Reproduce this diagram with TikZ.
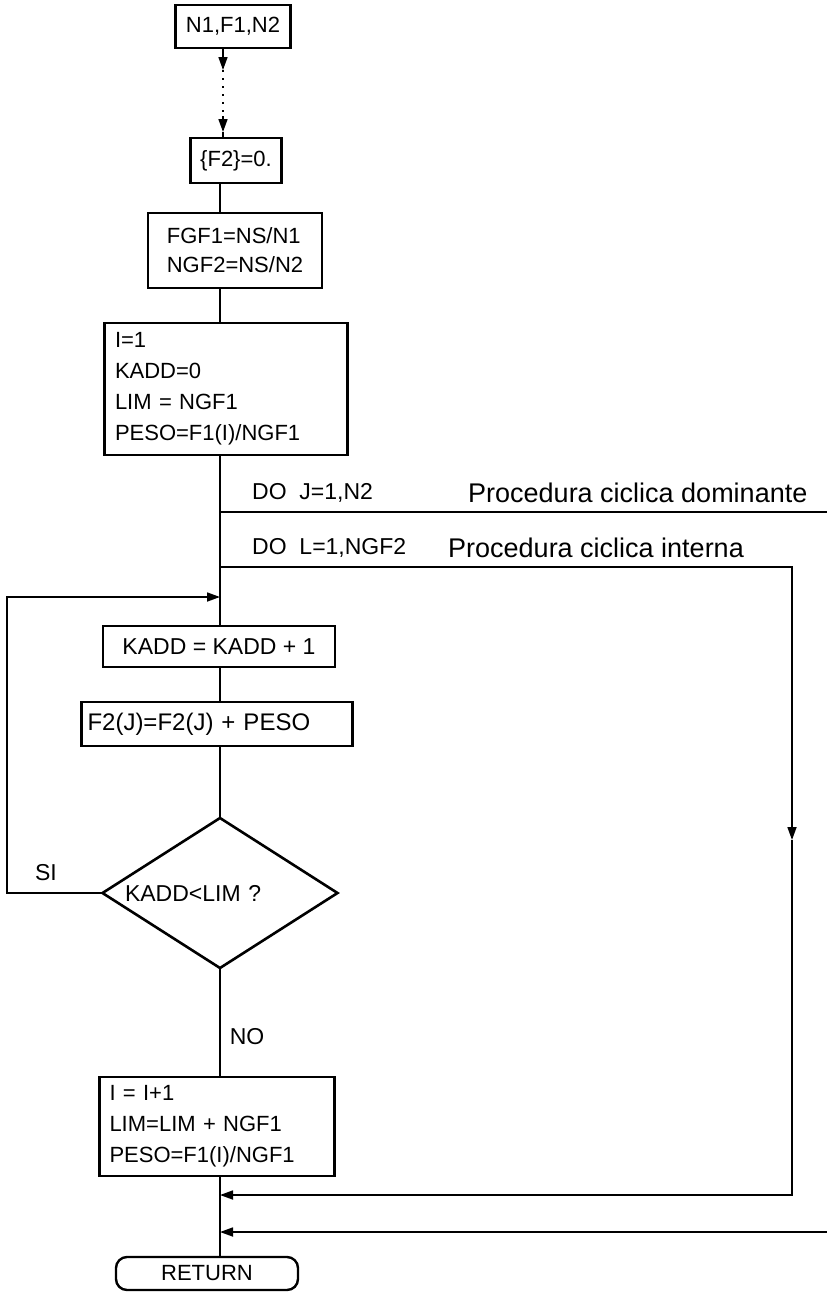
\documentclass[tikz,border=0pt]{standalone}
\usepackage{fontspec}
\setmainfont{Liberation Sans}
\usetikzlibrary{arrows.meta,positioning,shapes.geometric}

\begin{document}
\begin{tikzpicture}[x=1pt, y=-1pt,
  box/.style={draw, line width=2.6pt, inner sep=0pt, outer sep=0pt, font=\fontsize{22}{31}\selectfont},
  dia/.style={draw, diamond, aspect=1.6, line width=2.6pt, inner sep=0pt, outer sep=0pt, font=\fontsize{23}{27}\selectfont},
  term/.style={draw, rounded corners=11pt, line width=2.4pt, inner sep=0pt, outer sep=0pt, font=\fontsize{22}{26}\selectfont},
  lbl/.style={font=\fontsize{23}{27}\selectfont, inner sep=0pt},
  note/.style={font=\fontsize{27}{31}\selectfont, inner sep=0pt, anchor=west},
  line/.style={line width=1.7pt},
  >={Triangle[length=13pt,width=9pt]}]
\useasboundingbox (0,0) rectangle (827,1294);

\node[box, minimum width=115pt, minimum height=43pt] (n1) at (233,26.5) {N1,F1,N2};
\node[box, minimum width=91pt, minimum height=45pt, below=90pt of n1, xshift=3pt] (f2) {\{F2\}=0.};
\node[box, minimum width=174pt, minimum height=75pt, align=left, font=\fontsize{22}{29}\selectfont, below=30pt of f2, xshift=-1pt] (gf) {FGF1=NS/N1\\NGF2=NS/N2};
\node[box, minimum width=243pt, minimum height=132pt, align=left, text width=222pt, below=35pt of gf, xshift=-9pt] (i1) {I=1\\KADD=0\\LIM = NGF1\\PESO=F1(I)/NGF1};
\node[box, minimum width=232pt, minimum height=41pt, font=\fontsize{23}{27}\selectfont, below=171pt of i1, xshift=-7pt] (ka) {KADD = KADD + 1};
\node[box, minimum width=271pt, minimum height=44pt, align=left, text width=259pt, font=\fontsize{24}{28}\selectfont, below=35pt of ka, xshift=-2pt] (fj) {F2(J)=F2(J) + PESO};
\node[dia, minimum width=235pt, minimum height=150pt, align=left, text width=190pt, below=72pt of fj, xshift=3pt] (kl) {KADD<LIM ?};
\node[box, minimum width=235pt, minimum height=99pt, align=left, text width=215pt, below=109pt of kl, xshift=-3pt] (i2) {I = I+1\\LIM=LIM + NGF1\\PESO=F1(I)/NGF1};
\node[term, minimum width=182pt, minimum height=33pt, below=81pt of i2, xshift=-10pt] (rt) {RETURN};

% loop texts
\node[lbl, anchor=west] (dj) at (252,493) {DO\ \ J=1,N2};
\node[note] (pd) at (468,493) {Procedura ciclica dominante};
\node[lbl, anchor=west] (dl) at (252,548) {DO\ \ L=1,NGF2};
\node[note] (pi) at (448,548) {Procedura ciclica interna};
\node[lbl] (si) at (46,873) {SI};
\node[lbl] (no) at (247,1037) {NO};

\coordinate (ax) at (220,0);
\coordinate (d1) at (223,70);
\coordinate (d2) at (223,116);
\coordinate (d3) at (223,132);
\coordinate (bk) at (220,597);
\coordinate (lf) at (7,597);
\coordinate (j1) at (220,512);
\coordinate (j2) at (827,512);
\coordinate (l1) at (220,567);
\coordinate (l2) at (792,567);
\coordinate (l3) at (792,840);
\coordinate (l4) at (220,1195);
\coordinate (o1) at (827,1232);
\coordinate (o2) at (220,1232);

\draw[line,->] (n1.south -| d1) -- (d1);
\draw[line,dash pattern=on 2pt off 6pt] (d1) -- (d2);
\draw[line,->] (d2) -- (d3);
\draw[line] (d3) -- (f2.north -| d3);
\draw[line] (f2.south -| ax) -- (gf.north -| ax);
\draw[line] (gf.south -| ax) -- (i1.north -| ax);
\draw[line] (i1.south -| ax) -- (ka.north -| ax);
\draw[line] (ka.south -| ax) -- (fj.north -| ax);
\draw[line] (fj.south -| ax) -- (kl.north);
\draw[line] (kl.south) -- (i2.north -| ax);
\draw[line] (i2.south -| ax) -- (rt.north -| ax);

\draw[line,->] (kl.west) -| (lf) -- (bk);
\draw[line] (j1) -- (j2);
\draw[line,->] (l1) -- (l2) -- (l3);
\draw[line,->] (l3) |- (l4);
\draw[line,->] (o1) -- (o2);
\end{tikzpicture}
\end{document}
